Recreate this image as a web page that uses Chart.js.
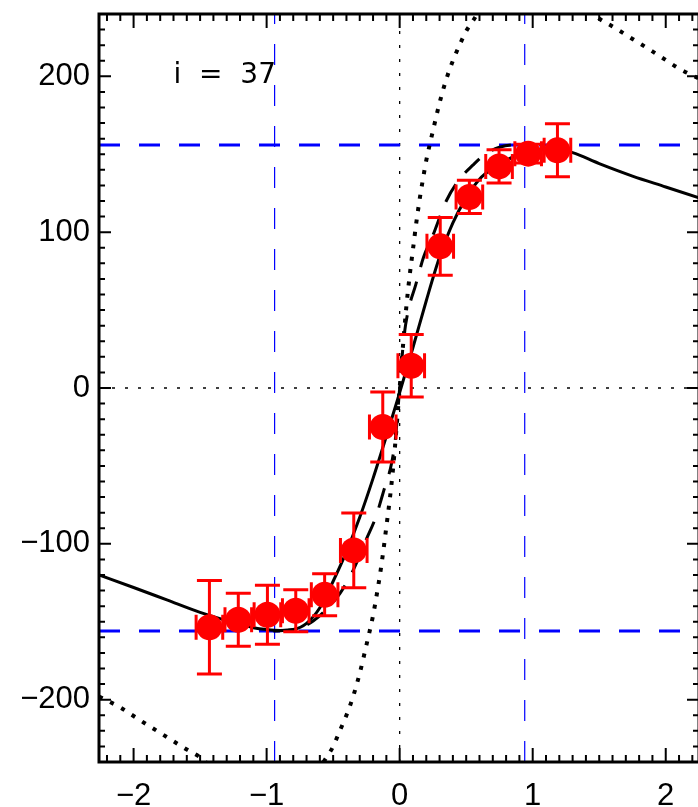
<!DOCTYPE html>
<html>
<head>
<meta charset="utf-8">
<script src="https://cdn.jsdelivr.net/npm/chart.js@4/dist/chart.umd.min.js"></script>
<style>
  html, body { margin: 0; padding: 0; background: #fff; overflow: hidden; }
  #wrap { position: relative; width: 712px; height: 807px; }
</style>
</head>
<body>
<div id="wrap"><canvas id="c"></canvas></div>
<script>
// Axis tick labels
const xTicks = [-2, -1, 0, 1, 2];
const yTicks = [-200, -100, 0, 100, 200];

// Measured velocities with errors
const ptX  = [-1.43, -1.213, -0.994, -0.781, -0.564, -0.345, -0.127, 0.087, 0.305, 0.524, 0.747, 0.966, 1.186];
const ptY  = [-153.5, -148.7, -145.5, -142.9, -132.7, -104.2, -25.0, 14.3, 90.9, 122.6, 142.2, 150.4, 152.5];
const errY = [30, 17, 19, 13.5, 13.5, 24, 22.5, 20, 18.5, 10.7, 10.7, 6, 17];
const errX = [0.1, 0.1, 0.1, 0.1, 0.1, 0.1, 0.1, 0.1, 0.1, 0.1, 0.1, 0.1, 0.1];

// Best-fit model (solid)
const solidX = [-2.26, -2.0, -1.75, -1.5, -1.25, -1.1, -1.0, -0.9, -0.8, -0.7, -0.6, -0.5, -0.4, -0.3, -0.2, -0.1, 0.0, 0.1, 0.2, 0.3, 0.4, 0.5, 0.6, 0.7, 0.8, 0.9, 1.0, 1.1, 1.2, 1.3, 1.5, 1.75, 2.0, 2.25];
const solidY = [-120, -128, -136, -144, -150.5, -153.8, -155, -155.6, -155, -151, -141, -124, -105, -83, -58, -31, -3, 26, 56, 84, 106, 122, 134, 141, 146, 150, 152.5, 153.5, 153, 151, 144, 136, 129, 122];

// Intrinsic model (dashed)
const dashX = [-0.95, -0.85, -0.75, -0.65, -0.55, -0.45, -0.35, -0.25, -0.18, -0.12, -0.06, -0.03, 0, 0.03, 0.06, 0.12, 0.18, 0.25, 0.35, 0.45, 0.55, 0.65, 0.75, 0.85, 0.95];
const dashY = [-156, -155.5, -154, -149.5, -142, -132, -117, -97, -83, -66, -48, -31, 0, 31, 48, 66, 84, 98, 120, 134, 143, 150.5, 154.5, 156, 156];

// Unprojected model (dotted)
const dotX = [-2.26, -2.1, -2.0, -1.9, -1.75, -1.6, -1.5, -1.4, -1.3, -1.2, -1.1, -1.0, -0.9, -0.8, -0.7, -0.6, -0.55, -0.5, -0.45, -0.4, -0.35, -0.3, -0.25, -0.2, -0.175, -0.15, -0.125, -0.1, -0.075, -0.05, -0.025, 0, 0.025, 0.05, 0.075, 0.1, 0.125, 0.15, 0.175, 0.2, 0.25, 0.3, 0.35, 0.4, 0.45, 0.5, 0.55, 0.6, 0.7, 0.8, 0.9, 1.0, 1.1, 1.2, 1.3, 1.4, 1.5, 1.6, 1.75, 1.9, 2.0, 2.1, 2.25];
const dotY = [-198, -205, -210.5, -216, -224, -232, -237, -244.5, -251, -256, -259, -260, -259, -256, -250, -243, -237, -230, -220, -210, -198, -183, -165, -146, -134, -121, -106, -89, -72, -52, -27, 0, 27, 52, 72, 89, 106, 121, 134, 146, 165, 183, 198, 210, 220, 229, 235.5, 242, 250, 256, 259, 260, 259, 256, 251, 244.5, 237, 232, 224, 216, 210.5, 205, 198.5];

// Reference levels
const vLevels = [-156, 156];
const rMarks  = [-0.94, 0.94];
const xRange = [-2.26, 2.25];
const yRange = [-240, 240];

const label = 'i  =  37';

const FONT = "'Liberation Sans', Arial, Helvetica, sans-serif";
const pairs = (xs, ys) => xs.map((x, i) => ({ x, y: ys[i] }));
const fmt = v => (v < 0 ? '\u2212' + Math.abs(v) : String(v));

const lineDs = (data, color, width, dash, order, extra) => Object.assign({
  data, borderColor: color, borderWidth: width, borderDash: dash,
  showLine: true, pointRadius: 0, fill: false, order, borderCapStyle: 'butt'
}, extra || {});

const datasets = [
  { data: pairs(ptX, ptY), backgroundColor: '#ff0000', borderWidth: 0, pointRadius: 13, showLine: false, order: 0 },
  lineDs(pairs(solidX, solidY), '#000', 3, [], 1, { cubicInterpolationMode: 'monotone' }),
  lineDs(pairs(dashX, dashY), '#000', 3, [20, 15], 2, { cubicInterpolationMode: 'monotone' }),
  lineDs(pairs(dotX, dotY), '#000', 4, [4, 8.5], 3, { cubicInterpolationMode: 'monotone' }),
  lineDs([{ x: xRange[0], y: vLevels[0] }, { x: xRange[1], y: vLevels[0] }], '#0000ff', 3, [21, 19], 4),
  lineDs([{ x: xRange[0], y: vLevels[1] }, { x: xRange[1], y: vLevels[1] }], '#0000ff', 3, [21, 19], 4),
  lineDs([{ x: rMarks[0], y: yRange[0] }, { x: rMarks[0], y: yRange[1] }], '#0000ff', 1.2, [21, 20], 4),
  lineDs([{ x: rMarks[1], y: yRange[0] }, { x: rMarks[1], y: yRange[1] }], '#0000ff', 1.2, [21, 20], 4),
  lineDs([{ x: xRange[0], y: 0 }, { x: xRange[1], y: 0 }], '#000', 1.3, [3, 10], 5),
  lineDs([{ x: 0, y: yRange[0] }, { x: 0, y: yRange[1] }], '#000', 1.3, [3, 11], 5)
];

const errorBars = {
  id: 'errorBars',
  afterDatasetsDraw(chart) {
    const { ctx, scales: { x, y } } = chart;
    ctx.save();
    ctx.strokeStyle = '#ff0000';
    ctx.lineWidth = 3;
    const cap = 12.5;
    ptX.forEach((vx, i) => {
      const px = x.getPixelForValue(vx), py = y.getPixelForValue(ptY[i]);
      const yt = y.getPixelForValue(ptY[i] + errY[i]), yb = y.getPixelForValue(ptY[i] - errY[i]);
      const xl = x.getPixelForValue(vx - errX[i]), xr = x.getPixelForValue(vx + errX[i]);
      ctx.beginPath();
      ctx.moveTo(px, yt); ctx.lineTo(px, yb);
      ctx.moveTo(px - cap, yt); ctx.lineTo(px + cap, yt);
      ctx.moveTo(px - cap, yb); ctx.lineTo(px + cap, yb);
      ctx.moveTo(xl, py); ctx.lineTo(xr, py);
      ctx.moveTo(xl, py - cap); ctx.lineTo(xl, py + cap);
      ctx.moveTo(xr, py - cap); ctx.lineTo(xr, py + cap);
      ctx.stroke();
    });
    ctx.restore();
  }
};

const frame = {
  id: 'frame',
  afterDraw(chart) {
    const { ctx, chartArea: a, scales: { x, y } } = chart;
    ctx.save();
    ctx.strokeStyle = '#000';
    ctx.lineWidth = 2;
    ctx.beginPath();
    for (let k = Math.ceil(xRange[0] * 10); k <= Math.floor(xRange[1] * 10); k++) {
      const px = x.getPixelForValue(k / 10);
      const len = k % 10 === 0 ? 14 : 7;
      ctx.moveTo(px, a.bottom); ctx.lineTo(px, a.bottom - len);
      ctx.moveTo(px, a.top); ctx.lineTo(px, a.top + len);
    }
    for (let k = Math.ceil(yRange[0] / 10); k <= Math.floor(yRange[1] / 10); k++) {
      const py = y.getPixelForValue(k * 10);
      const len = k % 10 === 0 ? 12 : 6;
      ctx.moveTo(a.left, py); ctx.lineTo(a.left + len, py);
      ctx.moveTo(a.right, py); ctx.lineTo(a.right - len, py);
    }
    ctx.stroke();
    ctx.lineWidth = 3;
    ctx.strokeRect(a.left, a.top, a.right - a.left, a.bottom - a.top);

    ctx.fillStyle = '#000';
    ctx.font = "28px 'DejaVu Sans', sans-serif";
    ctx.textBaseline = 'alphabetic';
    ctx.textAlign = 'left';
    ctx.fillText(label, x.getPixelForValue(-1.70), y.getPixelForValue(196));
    ctx.restore();
  }
};

const noPad = s => { s.paddingTop = 0; s.paddingBottom = 0; s.paddingLeft = 0; s.paddingRight = 0; };

new Chart(document.getElementById('c'), {
  type: 'scatter',
  data: { datasets },
  options: {
    responsive: true,
    maintainAspectRatio: false,
    animation: false,
    devicePixelRatio: 1,
    events: [],
    layout: { padding: { top: 14, right: 0, left: 0, bottom: 0 } },
    plugins: { legend: { display: false }, tooltip: { enabled: false } },
    scales: {
      x: {
        type: 'linear', min: xRange[0], max: xRange[1],
        afterBuildTicks: s => { s.ticks = xTicks.map(v => ({ value: v })); },
        afterFit: s => { s.height = 45; noPad(s); },
        grid: { display: false, drawTicks: false },
        border: { display: false },
        ticks: { color: '#000', font: { family: FONT, size: 31 }, padding: 16, maxRotation: 0, callback: v => fmt(v) }
      },
      y: {
        type: 'linear', min: yRange[0], max: yRange[1],
        afterBuildTicks: s => { s.ticks = yTicks.map(v => ({ value: v })); },
        afterFit: s => { s.width = 99; noPad(s); },
        grid: { display: false, drawTicks: false },
        border: { display: false },
        ticks: { color: '#000', font: { family: FONT, size: 31 }, padding: 9, callback: v => fmt(v) }
      }
    }
  },
  plugins: [errorBars, frame]
});
</script>
</body>
</html>
